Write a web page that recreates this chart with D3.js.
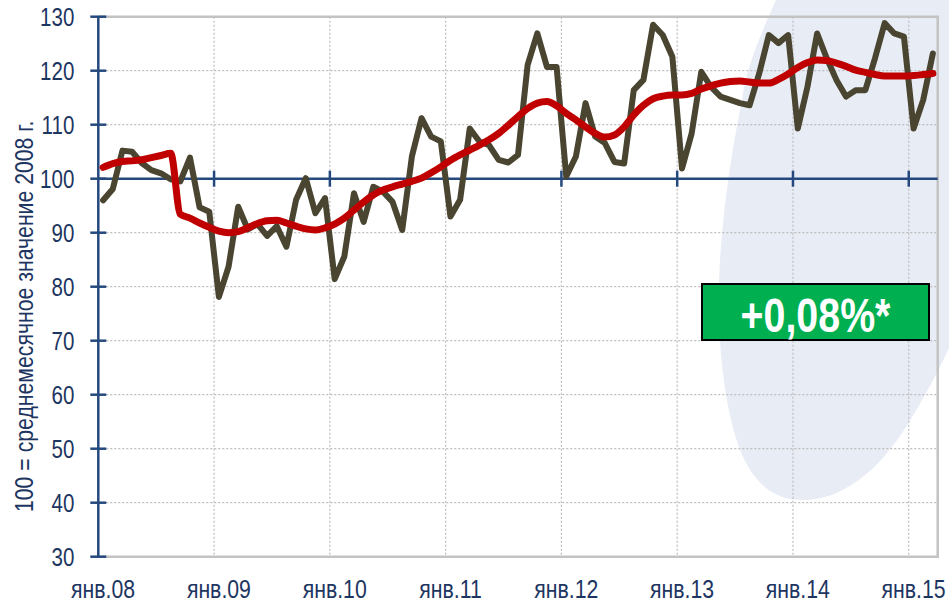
<!DOCTYPE html>
<html>
<head>
<meta charset="utf-8">
<script src="https://cdn.jsdelivr.net/npm/d3@7"></script>
<style>
  html, body { margin: 0; padding: 0; background: #ffffff; }
  svg { display: block; }
  text { font-family: "Liberation Sans", Arial, sans-serif; }
</style>
</head>
<body>
<svg id="chart" width="949" height="608"></svg>
<script>
// ---- data ----
const yearLabels = ["янв.08", "янв.09", "янв.10", "янв.11", "янв.12", "янв.13", "янв.14", "янв.15"];
const yTicks = [30, 40, 50, 60, 70, 80, 90, 100, 110, 120, 130];
// monthly index, Jan 2008 .. Mar 2015 (100 = average month of 2008)
const actualValues = [
  96.0, 98.1, 105.2, 105.0, 102.9, 101.6, 101.0, 99.9, 99.5, 103.9, 94.7, 93.9,
  78.1, 83.7, 94.8, 90.6, 91.6, 89.4, 91.2, 87.4, 96.1, 100.1, 93.6, 96.4,
  81.4, 85.6, 97.3, 92.0, 98.5, 97.6, 95.7, 90.5, 104.1, 111.2, 107.8, 106.9,
  93.0, 96.1, 109.3, 106.9, 106.2, 103.5, 103.0, 104.4, 121.1, 126.9, 120.7, 120.7,
  100.4, 104.1, 114.0, 107.8, 106.6, 103.1, 102.8, 116.4, 118.3, 128.5, 126.6, 122.6,
  101.9, 108.4, 119.8, 117.0, 115.2, 114.6, 114.0, 113.6, 119.5, 126.6, 125.1, 126.6,
  109.3, 117.0, 126.9, 122.3, 118.3, 115.2, 116.4, 116.4, 122.3, 128.8, 126.9, 126.3,
  109.3, 114.6, 123.2
];
const trendValues = [
  102.1, 102.8, 103.2, 103.3, 103.5, 103.9, 104.3, 104.7, 93.4, 92.7, 91.8, 91.0,
  90.3, 90.0, 90.2, 90.9, 91.7, 92.2, 92.3, 91.8, 91.2, 90.7, 90.5, 90.9,
  91.6, 92.7, 94.2, 95.7, 97.0, 97.9, 98.5, 99.0, 99.5, 100.1, 101.1, 102.2,
  103.4, 104.4, 105.3, 106.2, 107.2, 108.4, 109.9, 111.5, 113.0, 114.0, 114.3, 113.5,
  112.1, 110.9, 109.6, 108.4, 107.7, 108.1, 109.6, 111.8, 113.6, 114.8, 115.3, 115.5,
  115.5, 115.8, 116.6, 117.2, 117.7, 118.0, 118.1, 117.9, 117.7, 117.7, 118.4, 119.4,
  120.6, 121.5, 122.0, 121.9, 121.4, 120.8, 120.1, 119.7, 119.3, 119.0, 119.0, 119.0,
  119.1, 119.3, 119.5
];
const axisTitle = "100 = среднемесячное значение 2008 г.";
const badgeText = "+0,08%*";

// ---- layout ----
const svg = d3.select("#chart");
const pLeft = 98.3, pRight = 937.7, pTop = 16.7, pBottom = 556.7;
const nMonths = actualValues.length;
const x = d3.scaleLinear().domain([0, nMonths]).range([pLeft, pRight]);
const y = d3.scaleLinear().domain([30, 130]).range([pBottom, pTop]);

const navy = "#1d3561";
const axisBlue = "#25497f";
const gridGray = "#bdbdbd";

// background blob
svg.append("path")
  .attr("d", "M776,0 C758,40 746,70 742,100 C732,150 724,200 720,260 C716,330 722,400 740,450 C754,484 774,500 803,500 C842,500 878,472 908,424 C924,398 938,372 949,348 L949,0 Z")
  .attr("fill", "#e8ecf5");

// horizontal dotted gridlines
svg.append("g").selectAll("line")
  .data(yTicks.filter(v => v !== 30 && v !== 130 && v !== 100))
  .join("line")
  .attr("x1", pLeft).attr("x2", pRight)
  .attr("y1", d => y(d)).attr("y2", d => y(d))
  .attr("stroke", gridGray).attr("stroke-width", 1.2)
  .attr("stroke-dasharray", "2,2");

// vertical dotted gridlines at year boundaries
const yearIdx = yearLabels.map((_, k) => k * 12);
svg.append("g").selectAll("line")
  .data(yearIdx.filter(i => i > 0))
  .join("line")
  .attr("x1", d => x(d)).attr("x2", d => x(d))
  .attr("y1", pTop).attr("y2", pBottom)
  .attr("stroke", gridGray).attr("stroke-width", 1.2)
  .attr("stroke-dasharray", "2,2");

// plot border (top, right, bottom)
svg.append("path")
  .attr("d", `M${pLeft},${pTop} H${pRight} V${pBottom} H${pLeft}`)
  .attr("fill", "none").attr("stroke", "#c3c3c3").attr("stroke-width", 2.5);

// y axis line + cross ticks
svg.append("line")
  .attr("x1", pLeft).attr("x2", pLeft).attr("y1", pTop).attr("y2", pBottom)
  .attr("stroke", axisBlue).attr("stroke-width", 2.5);
svg.append("g").selectAll("line").data(yTicks).join("line")
  .attr("x1", pLeft - 8).attr("x2", pLeft + 8)
  .attr("y1", d => y(d)).attr("y2", d => y(d))
  .attr("stroke", axisBlue).attr("stroke-width", 2.5);
// y tick labels (condensed)
svg.append("g").selectAll("text").data(yTicks).join("text")
  .attr("transform", d => `translate(${pLeft - 24},${y(d)}) scale(0.82,1)`)
  .attr("dy", "0.36em")
  .attr("text-anchor", "end")
  .attr("fill", navy).style("font-size", "25px")
  .text(d => d3.format("d")(d));

// x axis at y = 100
svg.append("line")
  .attr("x1", pLeft).attr("x2", pRight).attr("y1", y(100)).attr("y2", y(100))
  .attr("stroke", axisBlue).attr("stroke-width", 2.5);
svg.append("g").selectAll("line").data(yearIdx.filter(i => i > 0)).join("line")
  .attr("x1", d => x(d)).attr("x2", d => x(d))
  .attr("y1", y(100) - 8).attr("y2", y(100) + 8)
  .attr("stroke", axisBlue).attr("stroke-width", 2.5);

// x labels (centered on January category)
svg.append("g").selectAll("text").data(yearLabels).join("text")
  .attr("transform", (d, k) => `translate(${x(k * 12 + 0.5)},598) scale(0.85,1)`)
  .attr("text-anchor", "middle")
  .attr("fill", navy).style("font-size", "25px")
  .text(d => d);

// y axis title
svg.append("text")
  .attr("transform", "translate(33,512) rotate(-90) scale(0.85,1)")
  .attr("text-anchor", "start")
  .attr("fill", navy).style("font-size", "25px")
  .text(axisTitle);

// lines
const lineActual = d3.line()
  .x((d, i) => x(i + 0.5)).y(d => y(d));
const lineTrend = d3.line()
  .x((d, i) => x(i + 0.5)).y(d => y(d))
  .curve(d3.curveMonotoneX);

svg.append("path").datum(actualValues)
  .attr("d", lineActual)
  .attr("fill", "none").attr("stroke", "#4a4530").attr("stroke-width", 6)
  .attr("stroke-linejoin", "round").attr("stroke-linecap", "round");

svg.append("path").datum(trendValues)
  .attr("d", lineTrend)
  .attr("fill", "none").attr("stroke", "#c00000").attr("stroke-width", 7)
  .attr("stroke-linejoin", "round").attr("stroke-linecap", "round");

// badge
svg.append("rect")
  .attr("x", 702).attr("y", 284).attr("width", 227).attr("height", 56)
  .attr("fill", "#00b050").attr("stroke", "#000").attr("stroke-width", 2);
svg.append("text")
  .attr("transform", "translate(815.5,332) scale(0.82,1)")
  .attr("text-anchor", "middle")
  .attr("fill", "#ffffff").style("font-size", "48px").style("font-weight", "bold")
  .text(badgeText);
</script>
</body>
</html>
